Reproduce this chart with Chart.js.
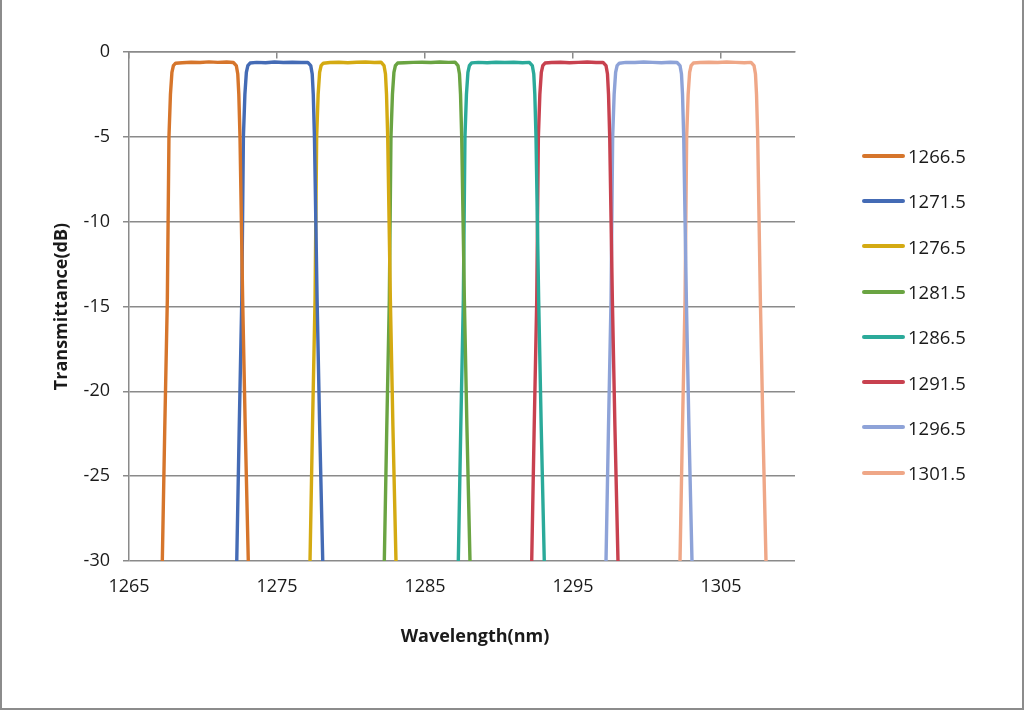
<!DOCTYPE html>
<html>
<head>
<meta charset="utf-8">
<script src="https://cdn.jsdelivr.net/npm/chart.js@4.4.1/dist/chart.umd.min.js"></script>
<style>
    html, body { margin: 0; padding: 0; background: #fff; }
    #wrap {
        position: relative;
        width: 1024px;
        height: 710px;
        box-sizing: border-box;
        border-left: 2px solid #8c8c8c;
        border-right: 2px solid #8c8c8c;
        border-bottom: 2px solid #8c8c8c;
        overflow: hidden;
    }
    #chart { position: absolute; left: -2px; top: 0; }
    #legend {
        position: absolute;
        left: 860px;
        top: 133px;
        font-family: 'Open Sans', sans-serif;
        font-size: 18.5px;
        color: #1a1a1a;
    }
    #legend .item { display: flex; align-items: center; height: 45.3px; }
    #legend .swatch { width: 43px; height: 4px; border-radius: 2px; margin-right: 3px; }
</style>
</head>
<body>
<div id="wrap">
    <canvas id="chart" width="1024" height="710"></canvas>
    <div id="legend"></div>
</div>
<script>
// Channel names (legend)
const channelNames = ['1266.5', '1271.5', '1276.5', '1281.5', '1286.5', '1291.5', '1296.5', '1301.5'];

// Axis ticks
const xTickValues = [1265, 1275, 1285, 1295, 1305];
const yTickValues = [-30, -25, -20, -15, -10, -5, 0];

// Measured spectra, [wavelength nm, transmittance dB]
const ch1266_5 = [[1267.25,-30],[1267.42,-22],[1267.59,-14.6],[1267.70,-5],[1267.80,-2.5],[1267.90,-1.2],[1268.00,-0.8],[1268.15,-0.66],[1268.60,-0.63],[1269.20,-0.60],[1269.80,-0.62],[1270.40,-0.58],[1271.00,-0.61],[1271.60,-0.59],[1272.05,-0.62],[1272.25,-0.8],[1272.35,-1.3],[1272.42,-2.5],[1272.50,-5],[1272.68,-14.6],[1272.85,-22],[1273.06,-30]];
const ch1271_5 = [[1272.28,-30],[1272.45,-22],[1272.62,-14.6],[1272.73,-5],[1272.83,-2.5],[1272.93,-1.2],[1273.03,-0.8],[1273.18,-0.65],[1273.63,-0.61],[1274.23,-0.63],[1274.83,-0.59],[1275.43,-0.62],[1276.03,-0.60],[1276.63,-0.62],[1277.08,-0.61],[1277.28,-0.8],[1277.38,-1.3],[1277.45,-2.5],[1277.53,-5],[1277.71,-14.6],[1277.88,-22],[1278.09,-30]];
const ch1276_5 = [[1277.23,-30],[1277.40,-22],[1277.57,-14.6],[1277.68,-5],[1277.78,-2.5],[1277.88,-1.2],[1277.98,-0.8],[1278.13,-0.66],[1278.58,-0.62],[1279.18,-0.60],[1279.78,-0.63],[1280.38,-0.60],[1280.98,-0.59],[1281.58,-0.62],[1282.03,-0.60],[1282.23,-0.8],[1282.33,-1.3],[1282.40,-2.5],[1282.48,-5],[1282.66,-14.6],[1282.83,-22],[1283.04,-30]];
const ch1281_5 = [[1282.25,-30],[1282.42,-22],[1282.59,-14.6],[1282.70,-5],[1282.80,-2.5],[1282.90,-1.2],[1283.00,-0.8],[1283.15,-0.65],[1283.60,-0.63],[1284.20,-0.61],[1284.80,-0.60],[1285.40,-0.62],[1286.00,-0.59],[1286.60,-0.61],[1287.03,-0.60],[1287.23,-0.8],[1287.33,-1.3],[1287.40,-2.5],[1287.48,-5],[1287.66,-14.6],[1287.83,-22],[1288.04,-30]];
const ch1286_5 = [[1287.25,-30],[1287.42,-22],[1287.59,-14.6],[1287.70,-5],[1287.80,-2.5],[1287.90,-1.2],[1288.00,-0.8],[1288.15,-0.64],[1288.60,-0.61],[1289.20,-0.63],[1289.80,-0.60],[1290.40,-0.62],[1291.00,-0.60],[1291.60,-0.63],[1292.05,-0.61],[1292.25,-0.8],[1292.35,-1.3],[1292.42,-2.5],[1292.50,-5],[1292.68,-14.6],[1292.85,-22],[1293.06,-30]];
const ch1291_5 = [[1292.21,-30],[1292.38,-22],[1292.55,-14.6],[1292.66,-5],[1292.76,-2.5],[1292.86,-1.2],[1292.96,-0.8],[1293.11,-0.65],[1293.56,-0.62],[1294.16,-0.60],[1294.76,-0.63],[1295.36,-0.61],[1295.96,-0.59],[1296.56,-0.62],[1297.03,-0.61],[1297.23,-0.8],[1297.33,-1.3],[1297.40,-2.5],[1297.48,-5],[1297.66,-14.6],[1297.83,-22],[1298.04,-30]];
const ch1296_5 = [[1297.23,-30],[1297.40,-22],[1297.57,-14.6],[1297.68,-5],[1297.78,-2.5],[1297.88,-1.2],[1297.98,-0.8],[1298.13,-0.66],[1298.58,-0.61],[1299.18,-0.62],[1299.78,-0.59],[1300.38,-0.61],[1300.98,-0.63],[1301.58,-0.60],[1302.03,-0.62],[1302.23,-0.8],[1302.33,-1.3],[1302.40,-2.5],[1302.48,-5],[1302.66,-14.6],[1302.83,-22],[1303.04,-30]];
const ch1301_5 = [[1302.23,-30],[1302.40,-22],[1302.57,-14.6],[1302.68,-5],[1302.78,-2.5],[1302.88,-1.2],[1302.98,-0.8],[1303.13,-0.65],[1303.58,-0.62],[1304.18,-0.60],[1304.78,-0.62],[1305.38,-0.59],[1305.98,-0.61],[1306.58,-0.63],[1307.03,-0.61],[1307.23,-0.8],[1307.33,-1.3],[1307.40,-2.5],[1307.48,-5],[1307.66,-14.6],[1307.83,-22],[1308.04,-30]];

const spectra = [ch1266_5, ch1271_5, ch1276_5, ch1281_5, ch1286_5, ch1291_5, ch1296_5, ch1301_5];

// Line colors
const lineColors = ['#D6752B', '#446BB5', '#D4AA12', '#6AA442', '#2BAA9A', '#C8414F', '#8EA3D8', '#EFA787'];

const gridGrey = '#8a8a8a';
const textColor = '#1a1a1a';
const fontFamily = "'Open Sans', sans-serif";

const datasets = spectra.map((points, i) => ({
    label: channelNames[i],
    data: points.map(p => ({ x: p[0], y: p[1] })),
    borderColor: lineColors[i],
    backgroundColor: lineColors[i],
    borderWidth: 3.4,
    pointRadius: 0,
    tension: 0,
    borderJoinStyle: 'round',
    showLine: true
}));

// Draw the x axis title centred under the plot the way the original does
const xTitlePlugin = {
    id: 'xTitle',
    afterDraw(chart) {
        const ctx = chart.ctx;
        ctx.save();
        ctx.fillStyle = textColor;
        ctx.font = `bold 18px ${fontFamily}`;
        ctx.textAlign = 'center';
        ctx.textBaseline = 'middle';
        ctx.fillText('Wavelength(nm)', (chart.chartArea.left + chart.chartArea.right) / 2 + 13, 637);
        ctx.restore();
    }
};

const chart = new Chart(document.getElementById('chart'), {
    type: 'scatter',
    data: { datasets },
    plugins: [xTitlePlugin],
    options: {
        responsive: false,
        animation: false,
        layout: { padding: { top: 52, right: 229, left: 0, bottom: 0 } },
        plugins: {
            legend: { display: false },
            tooltip: { enabled: false }
        },
        scales: {
            x: {
                type: 'linear',
                position: 'bottom',
                min: 1265,
                max: 1310,
                afterBuildTicks: scale => { scale.ticks = xTickValues.map(v => ({ value: v })); },
                afterFit: scale => { scale.height = 149; },
                grid: { display: false, drawTicks: false },
                border: { display: false },
                ticks: {
                    padding: 15,
                    color: textColor,
                    font: { family: fontFamily, size: 18, lineHeight: 1.2 },
                    maxRotation: 0,
                    callback: value => String(value)
                }
            },
            xTop: {
                type: 'linear',
                axis: 'x',
                position: { y: 0 },
                min: 1265,
                max: 1310,
                afterBuildTicks: scale => { scale.ticks = xTickValues.map(v => ({ value: v })); },
                grid: { drawOnChartArea: false, drawTicks: true, tickLength: 6, color: gridGrey, lineWidth: 1.5 },
                border: { display: true, color: gridGrey, width: 1.5 },
                ticks: { display: false }
            },
            y: {
                type: 'linear',
                min: -30,
                max: 0,
                afterBuildTicks: scale => { scale.ticks = yTickValues.map(v => ({ value: v })); },
                afterFit: scale => { scale.width = 129; },
                grid: { color: gridGrey, lineWidth: 1.5, tickLength: 6 },
                border: { display: true, color: gridGrey, width: 1.5 },
                ticks: {
                    padding: 13,
                    color: textColor,
                    font: { family: fontFamily, size: 18, lineHeight: 1.2 },
                    callback: value => String(value)
                },
                title: {
                    display: true,
                    text: 'Transmittance(dB)',
                    color: textColor,
                    font: { family: fontFamily, size: 18, weight: 'bold', lineHeight: 1.2 },
                    padding: { top: 51, bottom: 0 }
                }
            }
        }
    }
});

// Build legend from the datasets
const legendEl = document.getElementById('legend');
chart.data.datasets.forEach(ds => {
    const item = document.createElement('div');
    item.className = 'item';
    item.innerHTML = `<span class="swatch" style="background:${ds.borderColor}"></span><span>${ds.label}</span>`;
    legendEl.appendChild(item);
});
</script>
</body>
</html>
